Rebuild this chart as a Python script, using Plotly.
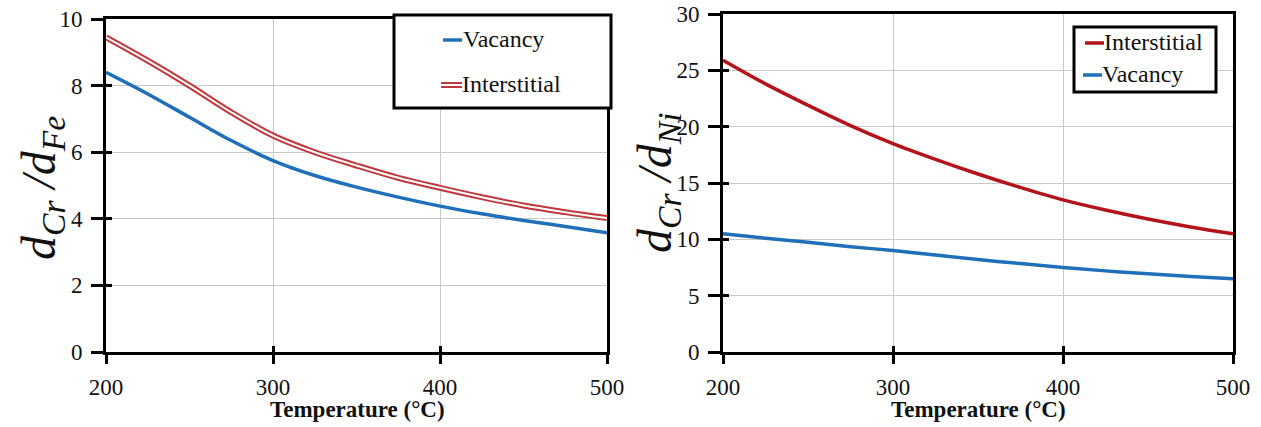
import plotly.graph_objects as go

# ---- data ----
temps = [200, 225, 250, 275, 300, 325, 350, 375, 400, 425, 450, 475, 500]
fe_vacancy = [8.4, 7.75, 7.05, 6.35, 5.75, 5.3, 4.95, 4.65, 4.38, 4.15, 3.95, 3.77, 3.58]
fe_interstitial = [9.45, 8.75, 8.0, 7.2, 6.5, 6.0, 5.6, 5.23, 4.93, 4.65, 4.4, 4.2, 4.02]
ni_interstitial = [25.9, 23.8, 21.9, 20.1, 18.5, 17.1, 15.8, 14.6, 13.5, 12.6, 11.8, 11.1, 10.5]
ni_vacancy = [10.5, 10.1, 9.75, 9.35, 9.0, 8.6, 8.2, 7.85, 7.5, 7.2, 6.95, 6.7, 6.5]
x_ticks = [200, 300, 400, 500]
left_y_ticks = [0, 2, 4, 6, 8, 10]
right_y_ticks = [0, 5, 10, 15, 20, 25, 30]

BLUE = "#1f70b8"
RED_L = "#c0383c"
RED_R = "#b3141b"
FONT = "Liberation Serif, Times New Roman, DejaVu Serif, serif"
W, H = 1261, 427

fig = go.Figure()

# left panel
fig.add_trace(go.Scatter(x=temps, y=fe_vacancy, mode="lines", line=dict(color=BLUE, width=3.5, shape="spline"),
                         xaxis="x", yaxis="y", showlegend=False))
fig.add_trace(go.Scatter(x=temps, y=fe_interstitial, mode="lines", line=dict(color=RED_L, width=6, shape="spline"),
                         xaxis="x", yaxis="y", showlegend=False))
fig.add_trace(go.Scatter(x=temps, y=fe_interstitial, mode="lines", line=dict(color="white", width=2, shape="spline"),
                         xaxis="x", yaxis="y", showlegend=False))
# right panel
fig.add_trace(go.Scatter(x=temps, y=ni_interstitial, mode="lines", line=dict(color=RED_R, width=3.5, shape="spline"),
                         xaxis="x2", yaxis="y2", showlegend=False))
fig.add_trace(go.Scatter(x=temps, y=ni_vacancy, mode="lines", line=dict(color=BLUE, width=3.5, shape="spline"),
                         xaxis="x2", yaxis="y2", showlegend=False))

def px(xp):
    return xp / W

def py(yp):
    return 1 - yp / H

tick_font = dict(family=FONT, size=23, color="#111")
common_x = dict(range=[200, 500], tickvals=x_ticks, showgrid=True, gridcolor="#c8c8c8", gridwidth=1,
                showline=True, linecolor="black", linewidth=3, mirror=True, ticks="outside", ticklen=9,
                tickwidth=3, tickcolor="black", tickfont=tick_font, zeroline=False, ticklabelstandoff=3,
                automargin=False)
common_y = dict(showgrid=True, gridcolor="#c8c8c8", gridwidth=1, showline=True, linecolor="black", linewidth=3,
                mirror=True, ticks="outside", ticklen=12, tickwidth=3, tickcolor="black", tickfont=tick_font,
                zeroline=False, ticklabelstandoff=4, automargin=False)
overlay = dict(ticks="inside", ticklen=6, tickwidth=3, tickcolor="black", showticklabels=False, showgrid=False,
               zeroline=False, showline=False, automargin=False)

L_dom = [px(106), px(607)]
R_dom = [px(723), px(1233)]
Y_dom_L = [py(352), py(19)]
Y_dom_R = [py(352), py(14)]

fig.update_layout(
    width=W, height=H, margin=dict(l=0, r=0, t=0, b=0, autoexpand=False),
    paper_bgcolor="white", plot_bgcolor="white",
    xaxis=dict(domain=L_dom, anchor="y", **common_x),
    yaxis=dict(domain=Y_dom_L, anchor="x", range=[0, 10], tickvals=left_y_ticks, **common_y),
    xaxis2=dict(domain=R_dom, anchor="y2", **common_x),
    yaxis2=dict(domain=Y_dom_R, anchor="x2", range=[0, 30], tickvals=right_y_ticks, **common_y),
    # overlay axes for the inside half of the cross ticks
    xaxis3=dict(domain=L_dom, anchor="y3", overlaying="x", range=[200, 500], tickvals=x_ticks, **overlay),
    yaxis3=dict(domain=Y_dom_L, anchor="x3", overlaying="y", range=[0, 10], tickvals=left_y_ticks, **overlay),
    xaxis4=dict(domain=R_dom, anchor="y4", overlaying="x2", range=[200, 500], tickvals=x_ticks, **overlay),
    yaxis4=dict(domain=Y_dom_R, anchor="x4", overlaying="y2", range=[0, 30], tickvals=right_y_ticks, **overlay),
    font=dict(family=FONT, color="#111"),
)
# invisible traces so overlay axes render
fig.add_trace(go.Scatter(x=[200], y=[0], xaxis="x3", yaxis="y3", mode="markers", marker=dict(opacity=0),
                         showlegend=False, hoverinfo="skip"))
fig.add_trace(go.Scatter(x=[200], y=[0], xaxis="x4", yaxis="y4", mode="markers", marker=dict(opacity=0),
                         showlegend=False, hoverinfo="skip"))

shapes = []
annos = []
leg_font = dict(family=FONT, size=24, color="#111")

# left legend box
shapes.append(dict(type="rect", xref="paper", yref="paper", x0=px(394), x1=px(611), y0=py(108), y1=py(15),
                   line=dict(color="black", width=3), fillcolor="white", layer="above"))
shapes.append(dict(type="line", xref="paper", yref="paper", x0=px(443), x1=px(462), y0=py(40), y1=py(40),
                   line=dict(color=BLUE, width=3.5), layer="above"))
shapes.append(dict(type="line", xref="paper", yref="paper", x0=px(441), x1=px(462), y0=py(85), y1=py(85),
                   line=dict(color=RED_L, width=6), layer="above"))
shapes.append(dict(type="line", xref="paper", yref="paper", x0=px(441), x1=px(462), y0=py(85), y1=py(85),
                   line=dict(color="white", width=2), layer="above"))
annos.append(dict(text="Vacancy", xref="paper", yref="paper", x=px(461), y=py(39), xanchor="left",
                  yanchor="middle", showarrow=False, font=leg_font))
annos.append(dict(text="Interstitial", xref="paper", yref="paper", x=px(460), y=py(84), xanchor="left",
                  yanchor="middle", showarrow=False, font=leg_font))

# right legend box
shapes.append(dict(type="rect", xref="paper", yref="paper", x0=px(1074), x1=px(1216), y0=py(92), y1=py(27),
                   line=dict(color="black", width=3), fillcolor="white", layer="above"))
shapes.append(dict(type="line", xref="paper", yref="paper", x0=px(1085), x1=px(1104), y0=py(43), y1=py(43),
                   line=dict(color=RED_R, width=3.5), layer="above"))
shapes.append(dict(type="line", xref="paper", yref="paper", x0=px(1083), x1=px(1102), y0=py(75), y1=py(75),
                   line=dict(color=BLUE, width=3.5), layer="above"))
annos.append(dict(text="Interstitial", xref="paper", yref="paper", x=px(1102), y=py(42), xanchor="left",
                  yanchor="middle", showarrow=False, font=leg_font))
annos.append(dict(text="Vacancy", xref="paper", yref="paper", x=px(1100), y=py(74), xanchor="left",
                  yanchor="middle", showarrow=False, font=leg_font))

# axis titles
for cx in (px(357), px(978)):
    annos.append(dict(text="<b>Temperature (°C)</b>", xref="paper", yref="paper", x=cx, y=py(409),
                      xanchor="center", yanchor="middle", showarrow=False,
                      font=dict(family=FONT, size=23, color="#111")))

annos.append(dict(text="<i>d</i><sub><i>Cr</i></sub><i> /d</i><sub><i>Fe</i></sub>", xref="paper", yref="paper",
                  x=px(42), y=py(188), xanchor="center", yanchor="middle", textangle=-90, showarrow=False,
                  font=dict(family=FONT, size=48, color="#111")))
annos.append(dict(text="<i>d</i><sub><i>Cr</i></sub><i> /d</i><sub><i>Ni</i></sub>", xref="paper", yref="paper",
                  x=px(658), y=py(183), xanchor="center", yanchor="middle", textangle=-90, showarrow=False,
                  font=dict(family=FONT, size=48, color="#111")))

fig.update_layout(shapes=shapes, annotations=annos)
fig.write_html("out.html", config={"displayModeBar": False},
               post_script="document.body.style.margin='0';document.body.style.overflow='hidden';")
